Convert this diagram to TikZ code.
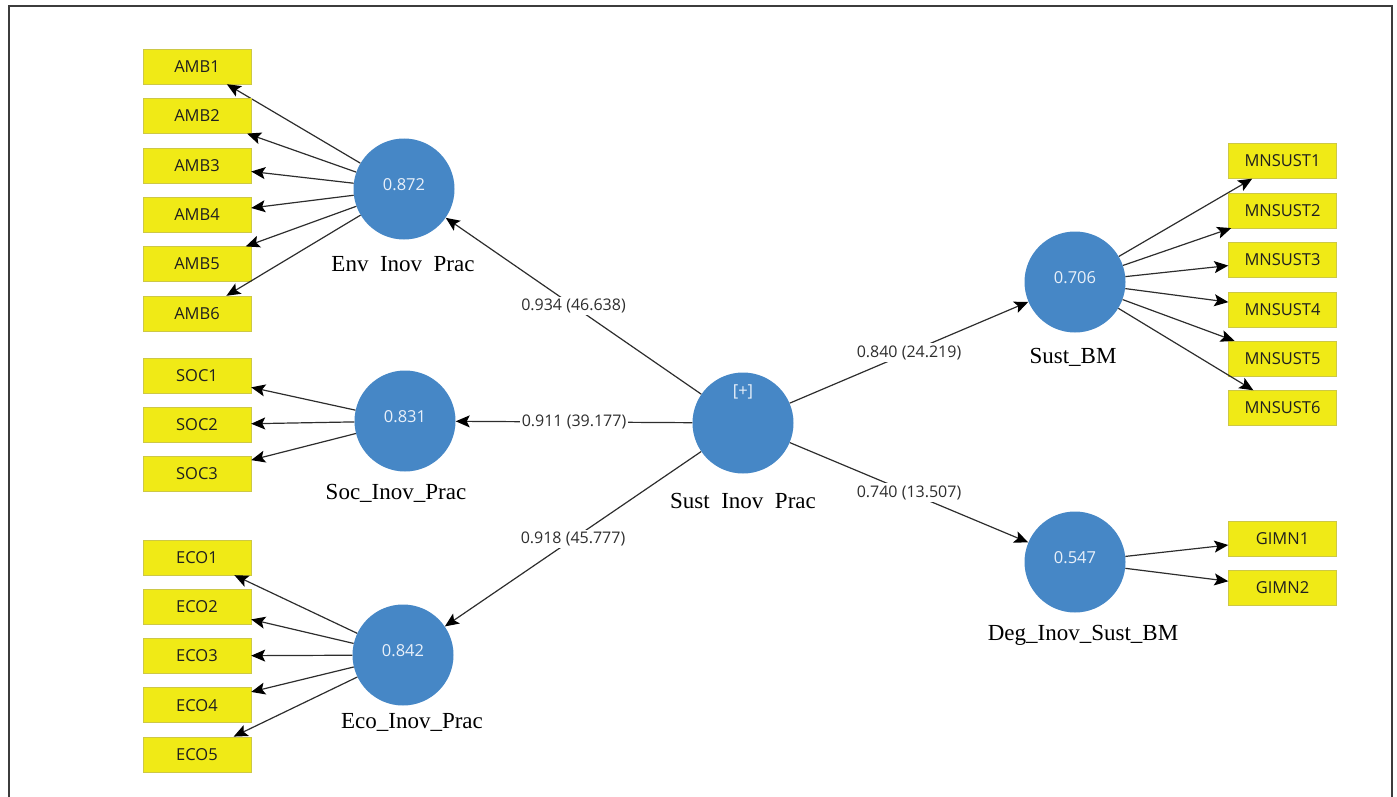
\documentclass[tikz,border=0pt]{standalone}
\usepackage{fontspec}
\setmainfont{Liberation Serif}
\newfontfamily\uisans{Open Sans}
\usetikzlibrary{arrows.meta}
\definecolor{lvblue}{RGB}{70,135,198}
\definecolor{indyellow}{RGB}{240,234,22}
\definecolor{indedge}{RGB}{205,200,70}
\definecolor{linegray}{RGB}{45,45,45}
\definecolor{framegray}{RGB}{60,60,60}
\definecolor{valtext}{RGB}{232,240,250}
\begin{document}
\begin{tikzpicture}[x=1pt,y=-1pt,
  ind/.style={rectangle, draw=indedge, fill=indyellow, minimum width=108pt, minimum height=35pt, inner sep=0pt, font=\uisans\fontsize{16.5}{19}\selectfont, text=black!88},
  lv/.style={circle, fill=lvblue, minimum size=101pt, inner sep=0pt},
  val/.style={font=\uisans\fontsize{16.5}{19}\selectfont, text=valtext},
  lvname/.style={font=\fontsize{23}{26}\selectfont, text=black},
  coef/.style={fill=white, inner sep=2pt, font=\uisans\fontsize{16}{19}\selectfont, text=black!82},
  conn/.style={draw=linegray, line width=1.2pt, -{Stealth[length=14pt,width=12pt,inset=3pt,black]}},
]
\useasboundingbox (0,0) rectangle (1397,797);
\draw[framegray, line width=1.3pt] (9,820) -- (9,6) -- (1392,6) -- (1392,820);

% latent variables
\node[lv, label={[val,yshift=4pt]center:0.872}] (env) at (404,189) {};
\node[lv, label={[val,yshift=4pt]center:0.831}] (soc) at (405,421) {};
\node[lv, label={[val,yshift=4pt]center:0.842}] (eco) at (403,655) {};
\node[lv] (sust) at (743,423) {};
\node[lv, label={[val,yshift=4pt]center:0.706}] (sbm) at (1075,282) {};
\node[lv, label={[val,yshift=4pt]center:0.547}] (deg) at (1075,562) {};
\node[val] (plus) at (743,392) {[+]};

% latent names
\node[lvname] (envname) at (403,265) {Env\phantom{\_}Inov\phantom{\_}Prac};
\node[lvname] (socname) at (396,493) {Soc\_Inov\_Prac};
\node[lvname] (econame) at (412,722) {Eco\_Inov\_Prac};
\node[lvname] (sustname) at (743,502) {Sust\phantom{\_}Inov\phantom{\_}Prac};
\node[lvname] (sbmname) at (1073,357) {Sust\_BM};
\node[lvname] (degname) at (1083,635) {Deg\_Inov\_Sust\_BM};

% indicators
\foreach \i in {1,...,6} {
  \node[ind] (amb\i) at (197,{66.5+49.4*(\i-1)}) {AMB\i};
  \draw[conn] (env) -- (amb\i);
}
\foreach \i in {1,...,3} {
  \node[ind] (soc\i) at (197,{375.5+49.2*(\i-1)}) {SOC\i};
  \draw[conn] (soc) -- (soc\i);
}
\foreach \i in {1,...,5} {
  \node[ind] (eco\i) at (197,{557.5+49.2*(\i-1)}) {ECO\i};
  \draw[conn] (eco) -- (eco\i);
}
\foreach \i in {1,...,6} {
  \node[ind] (mn\i) at (1282.5,{161+49.4*(\i-1)}) {MNSUST\i};
  \draw[conn] (sbm) -- (mn\i);
}
\foreach \i in {1,2} {
  \node[ind] (gi\i) at (1282.5,{539+49*(\i-1)}) {GIMN\i};
  \draw[conn] (deg) -- (gi\i);
}

% structural paths
\draw[conn] (sust) -- node[coef] {0.934 (46.638)} (env);
\draw[conn] (sust) -- node[coef] {0.911 (39.177)} (soc);
\draw[conn] (sust) -- node[coef] {0.918 (45.777)} (eco);
\draw[conn] (sust) -- node[coef] {0.840 (24.219)} (sbm);
\draw[conn] (sust) -- node[coef] {0.740 (13.507)} (deg);
\end{tikzpicture}
\end{document}
